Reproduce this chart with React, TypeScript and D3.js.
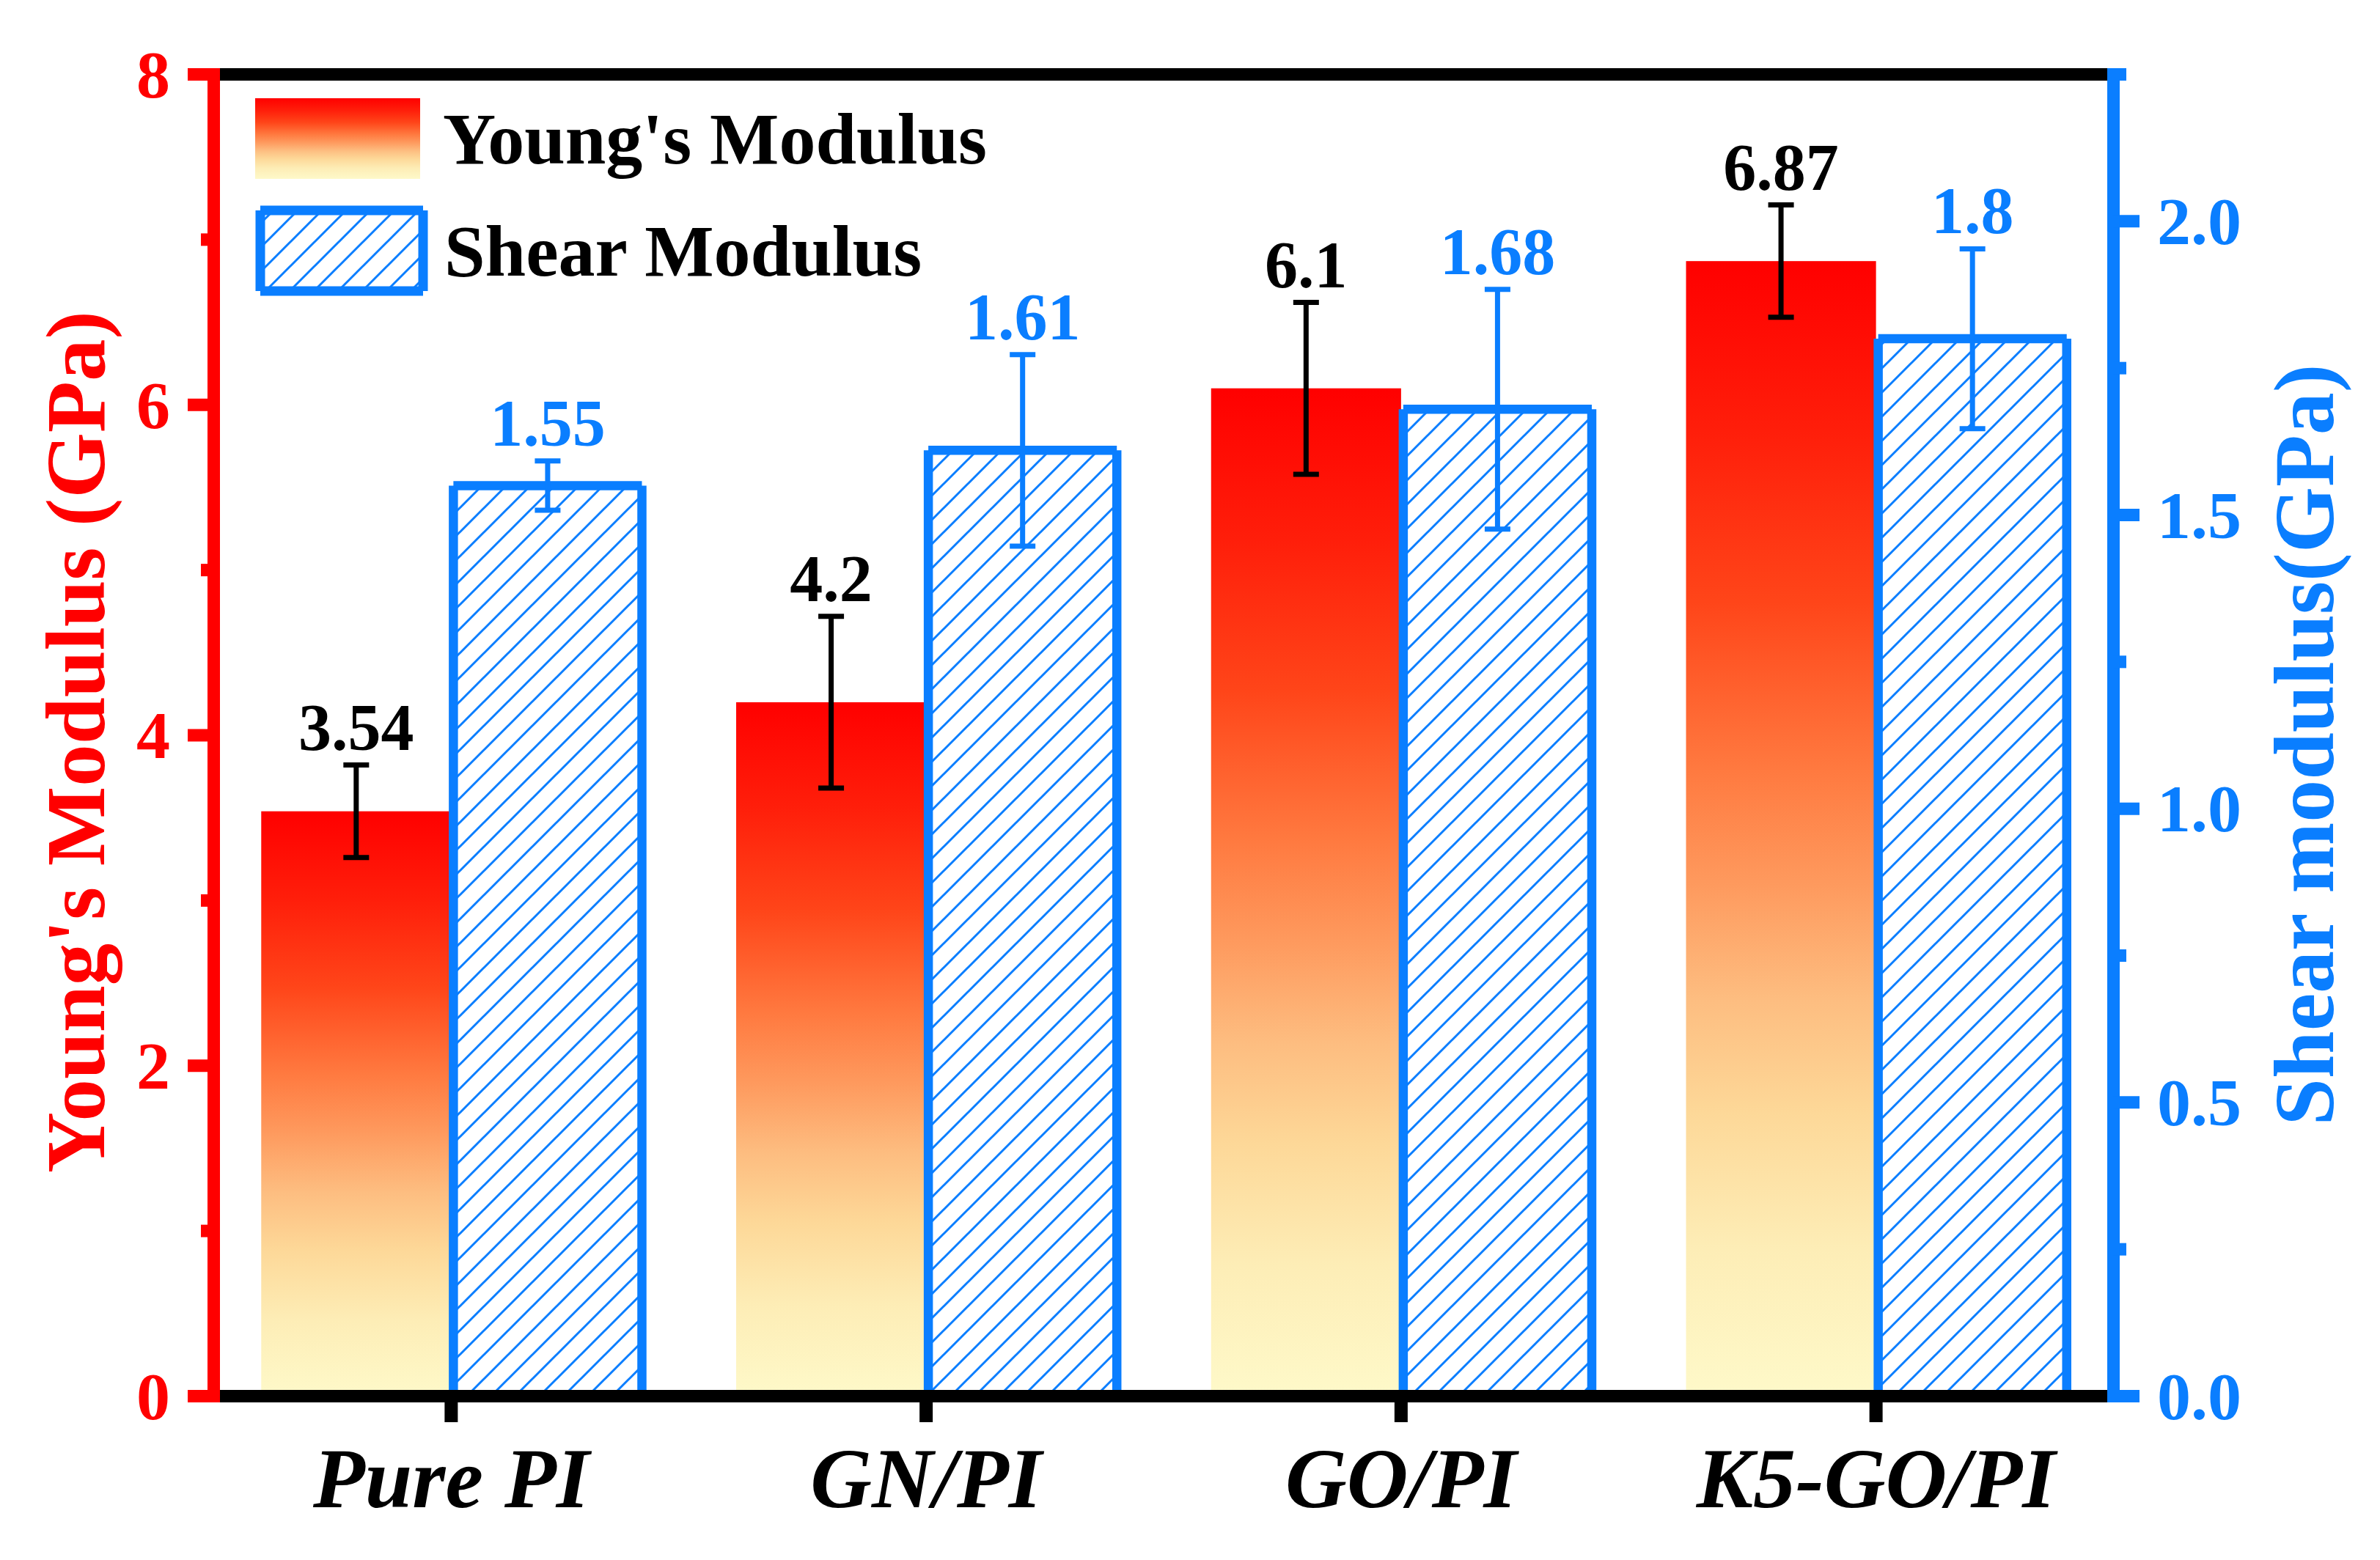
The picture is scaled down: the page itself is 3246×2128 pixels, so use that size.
import React from 'react';
import * as d3 from 'd3';

const categories = ['Pure PI', 'GN/PI', 'GO/PI', 'K5-GO/PI'];
const youngs = [3.54, 4.2, 6.1, 6.87];
const youngsErr = [0.28, 0.52, 0.52, 0.34];
const shear = [1.55, 1.61, 1.68, 1.8];
const shearErr = [0.042, 0.163, 0.204, 0.153];

const leftTicks = [0, 2, 4, 6, 8];
const leftMinor = [1, 3, 5, 7];
const rightTicks = [0, 0.5, 1.0, 1.5, 2.0];
const rightMinor = [0.25, 0.75, 1.25, 1.75, 2.25];

const RED = '#FF0000';
const BLUE = '#0A7EFF';
const FONT = '"Liberation Serif", "Times New Roman", serif';

export default function App() {
  const W = 3246, H = 2128;
  const L = 291.5, R = 2882.5, T = 101.5, B = 1904.5;
  const AX = 17;

  const x = d3.scaleBand<string>().domain(categories).range([L, R]).paddingInner(0.2).paddingOuter(0.1);
  const sub = d3.scaleBand<string>().domain(['young', 'shear']).range([0, x.bandwidth()]);
  const bw = sub.bandwidth();
  const yL = d3.scaleLinear().domain([0, 8]).range([B, T]);
  const yR = d3.scaleLinear().domain([0, 2.25]).range([B, T]);
  const fmtR = d3.format('.1f');

  const outline = (x0: number, y0: number, x1: number, y1: number) =>
    `M${x0},${y1}L${x0},${y0}M${x0},${y0}L${x1},${y0}M${x1},${y0}L${x1},${y1}M${x1},${y1}L${x0},${y1}`;

  const errBar = (cx: number, top: number, bot: number, color: string, key: string) => (
    <g key={key} stroke={color} strokeWidth={7} fill="none">
      <line x1={cx} x2={cx} y1={top} y2={bot} />
      <line x1={cx - 17.5} x2={cx + 17.5} y1={top} y2={top} />
      <line x1={cx - 17.5} x2={cx + 17.5} y1={bot} y2={bot} />
    </g>
  );

  return (
    <svg width={W} height={H} style={{ position: 'absolute', left: 0, top: 0, background: '#fff' }}>
      <defs>
        <linearGradient id="ygrad" x1="0" y1="0" x2="0" y2="1">
          <stop offset="0" stopColor="#FF0000" />
          <stop offset="0.15" stopColor="#FF1E0A" />
          <stop offset="0.3" stopColor="#FF4519" />
          <stop offset="0.45" stopColor="#FF7A40" />
          <stop offset="0.55" stopColor="#FE9A5E" />
          <stop offset="0.65" stopColor="#FDBD80" />
          <stop offset="0.75" stopColor="#FDD898" />
          <stop offset="0.87" stopColor="#FDEDB6" />
          <stop offset="1" stopColor="#FEF9C9" />
        </linearGradient>
        <pattern id="hatch" patternUnits="userSpaceOnUse" width={33} height={33}>
          <rect width={33} height={33} fill="#fff" />
          <path d="M-8,8L8,-8M0,33L33,0M25,41L41,25" stroke={BLUE} strokeWidth={3} />
        </pattern>
      </defs>

      {/* Young's bars */}
      {categories.map((c, i) => {
        const x0 = (x(c) as number) + (sub('young') as number);
        return <rect key={'yb' + c} x={x0} y={yL(youngs[i])} width={bw} height={B - yL(youngs[i])} fill="url(#ygrad)" />;
      })}

      {/* Shear bars */}
      {categories.map((c, i) => {
        const x0 = (x(c) as number) + (sub('shear') as number) + 3;
        const x1 = x0 + bw - 2;
        const y0 = yR(shear[i]);
        return (
          <g key={'sb' + c}>
            <rect x={x0} y={y0} width={x1 - x0} height={B - y0} fill="url(#hatch)" />
            <path d={outline(x0, y0, x1, B)} stroke={BLUE} strokeWidth={12.5} fill="none" strokeLinecap="butt" />
          </g>
        );
      })}

      {/* Error bars */}
      {categories.map((c, i) => {
        const cx = (x(c) as number) + (sub('young') as number) + bw / 2;
        return errBar(cx, yL(youngs[i] + youngsErr[i]), yL(youngs[i] - youngsErr[i]), '#000', 'ye' + c);
      })}
      {categories.map((c, i) => {
        const cx = (x(c) as number) + (sub('shear') as number) + bw / 2 + 2;
        return errBar(cx, yR(shear[i] + shearErr[i]), yR(shear[i] - shearErr[i]), BLUE, 'se' + c);
      })}

      {/* Value labels */}
      <g fontFamily={FONT} fontWeight="bold" fontSize={90} textAnchor="middle">
        {categories.map((c, i) => {
          const cx = (x(c) as number) + (sub('young') as number) + bw / 2;
          return <text key={'yl' + c} x={cx} y={yL(youngs[i] + youngsErr[i]) - 21} fill="#000">{String(youngs[i])}</text>;
        })}
        {categories.map((c, i) => {
          const cx = (x(c) as number) + (sub('shear') as number) + bw / 2 + 2;
          return <text key={'sl' + c} x={cx} y={yR(shear[i] + shearErr[i]) - 21} fill={BLUE}>{String(shear[i])}</text>;
        })}
      </g>

      {/* Frame: top and bottom */}
      <line x1={L} x2={R} y1={T} y2={T} stroke="#000" strokeWidth={AX} />
      <line x1={L} x2={R} y1={B} y2={B} stroke="#000" strokeWidth={AX} />

      {/* Bottom ticks */}
      {categories.map((c) => {
        const cx = (x(c) as number) + x.bandwidth() / 2;
        return <line key={'xt' + c} x1={cx} x2={cx} y1={B} y2={B + 35.5} stroke="#000" strokeWidth={18} />;
      })}

      {/* Left axis */}
      <line x1={L} x2={L} y1={T - AX / 2} y2={B + AX / 2} stroke={RED} strokeWidth={AX} />
      {leftTicks.map((t) => (
        <line key={'lt' + t} x1={L - 35.5} x2={L} y1={yL(t)} y2={yL(t)} stroke={RED} strokeWidth={AX} />
      ))}
      {leftMinor.map((t) => (
        <line key={'lm' + t} x1={L - 17.5} x2={L} y1={yL(t)} y2={yL(t)} stroke={RED} strokeWidth={AX} />
      ))}
      <g fontFamily={FONT} fontWeight="bold" fontSize={92} fill={RED} textAnchor="end">
        {leftTicks.map((t) => (
          <text key={'ltl' + t} x={232} y={yL(t)} dy="0.34em">{String(t)}</text>
        ))}
      </g>

      {/* Right axis */}
      <line x1={R} x2={R} y1={T - AX / 2} y2={B + AX / 2} stroke={BLUE} strokeWidth={AX} />
      {rightTicks.map((t) => (
        <line key={'rt' + t} x1={R} x2={R + 35.5} y1={yR(t)} y2={yR(t)} stroke={BLUE} strokeWidth={AX} />
      ))}
      {rightMinor.map((t) => (
        <line key={'rm' + t} x1={R} x2={R + 17.5} y1={yR(t)} y2={yR(t)} stroke={BLUE} strokeWidth={AX} />
      ))}
      <g fontFamily={FONT} fontWeight="bold" fontSize={92} fill={BLUE} textAnchor="start">
        {rightTicks.map((t) => (
          <text key={'rtl' + t} x={2942} y={yR(t)} dy="0.34em">{fmtR(t)}</text>
        ))}
      </g>

      {/* Category labels */}
      <g fontFamily={FONT} fontWeight="bold" fontStyle="italic" fontSize={116} fill="#000" textAnchor="middle">
        {categories.map((c) => (
          <text key={'cl' + c} x={(x(c) as number) + x.bandwidth() / 2} y={2056}>{c}</text>
        ))}
      </g>

      {/* Axis titles */}
      <text transform={`translate(142,${(T + B) / 2 + 9}) rotate(-90)`} fontFamily={FONT} fontWeight="bold" fontSize={115}
        fill={RED} textAnchor="middle">Young's Modulus (GPa)</text>
      <text transform={`translate(3182,${(T + B) / 2 + 13}) rotate(-90)`} fontFamily={FONT} fontWeight="bold" fontSize={116}
        fill={BLUE} textAnchor="middle">Shear modulus(GPa)</text>

      {/* Legend */}
      <rect x={348} y={134} width={225} height={110} fill="url(#ygrad)" />
      <text x={604} y={223} fontFamily={FONT} fontWeight="bold" fontSize={100} fill="#000">Young's Modulus</text>
      <rect x={355} y={287} width={222} height={110} fill="url(#hatch)" />
      <path d={outline(355, 287, 577, 397)} stroke={BLUE} strokeWidth={13} fill="none" />
      <text x={606} y={376} fontFamily={FONT} fontWeight="bold" fontSize={100} fill="#000">Shear Modulus</text>
    </svg>
  );
}
